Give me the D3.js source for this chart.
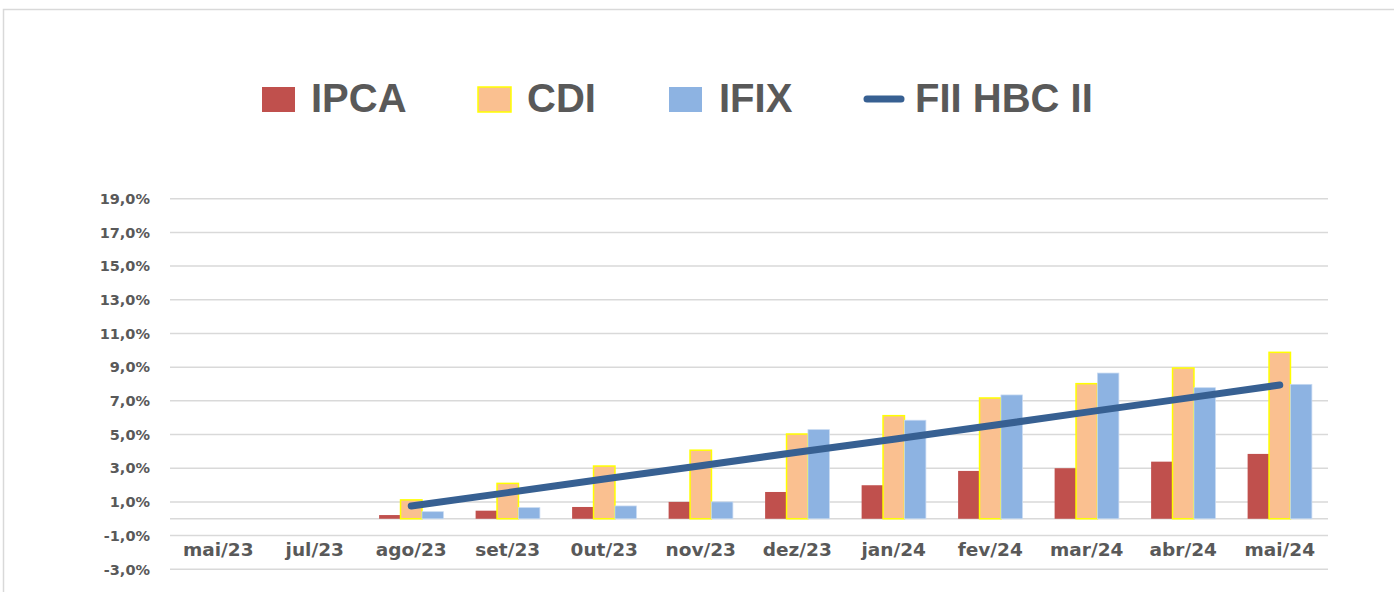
<!DOCTYPE html>
<html>
<head>
<meta charset="utf-8">
<script src="https://cdn.jsdelivr.net/npm/d3@7"></script>
<style>
  body { margin: 0; background: #fff; }
  svg { display: block; }
</style>
</head>
<body>
<div id="vis-container"></div>
<script>
// month labels as in the sheet (yes, "0ut/23" with a zero)
const categories = ["mai/23", "jul/23", "ago/23", "set/23", "0ut/23", "nov/23",
                    "dez/23", "jan/24", "fev/24", "mar/24", "abr/24", "mai/24"];

const ipca = [null, null, 0.22, 0.48, 0.70, 1.00, 1.59, 1.99, 2.84, 3.00, 3.39, 3.85];
const cdi  = [null, null, 1.12, 2.10, 3.13, 4.07, 5.03, 6.12, 7.17, 8.02, 8.95, 9.88];
const ifix = [null, null, 0.42, 0.66, 0.76, 1.00, 5.29, 5.85, 7.35, 8.65, 7.78, 7.98];
const fiiHbc = [null, null, 0.76, 1.55, 2.36, 3.15, 3.95, 4.72, 5.52, 6.33, 7.13, 7.94];

const yTicks = [-3, -1, 1, 3, 5, 7, 9, 11, 13, 15, 17, 19];

const seriesNames = ["IPCA", "CDI", "IFIX"];
const lineName = "FII HBC II";

let width = 1394;
let height = 592;

let svg = d3.select("#vis-container")
  .append("svg")
  .attr("width", width)
  .attr("height", height);

// chart frame
svg.append("rect")
  .attr("x", 3.5)
  .attr("y", 9.5)
  .attr("width", width + 20)
  .attr("height", height + 20)
  .attr("fill", "none")
  .attr("stroke", "#d9d9d9")
  .attr("stroke-width", 1.5);

let x0 = d3.scaleBand()
  .domain(categories)
  .range([170, 1328])
  .paddingInner(0.334)
  .paddingOuter(0.167);

let x1 = d3.scaleBand()
  .domain(seriesNames)
  .range([0, x0.bandwidth()]);

let y = d3.scaleLinear()
  .domain([-3, 19])
  .range([569.3, 198.7]);

// gridlines + zero line
let gridVals = yTicks.concat([0]);
svg.append("g")
  .selectAll("line")
  .data(gridVals)
  .enter()
  .append("line")
  .attr("x1", 170)
  .attr("x2", 1328)
  .attr("y1", d => y(d))
  .attr("y2", d => y(d))
  .attr("stroke", "#d9d9d9")
  .attr("stroke-width", 1.5);

// y labels
let fmt = d => d3.format(".1f")(d).replace(".", ",").replace("−", "-") + "%";
svg.append("g")
  .selectAll("text")
  .data(yTicks)
  .enter()
  .append("text")
  .attr("x", 150)
  .attr("y", d => y(d))
  .attr("dy", "0.36em")
  .attr("text-anchor", "end")
  .style("font-family", "'DejaVu Sans', sans-serif")
  .style("font-weight", "bold")
  .style("font-size", "14.5px")
  .style("fill", "#595959")
  .text(fmt);

// x labels
svg.append("g")
  .selectAll("text")
  .data(categories)
  .enter()
  .append("text")
  .attr("x", d => x0(d) + x0.bandwidth() / 2)
  .attr("y", 556)
  .attr("text-anchor", "middle")
  .style("font-family", "'DejaVu Sans', sans-serif")
  .style("font-weight", "bold")
  .style("font-size", "18.5px")
  .style("fill", "#595959")
  .text(d => d);

// bars
const colors = { IPCA: "#c0504d", CDI: "#fac090", IFIX: "#8db3e2" };
const strokes = { IPCA: "none", CDI: "#ffff00", IFIX: "#c6d9f1" };
const values = { IPCA: ipca, CDI: cdi, IFIX: ifix };

let barData = [];
categories.forEach(function (c, i) {
  seriesNames.forEach(function (s) {
    if (values[s][i] != null) barData.push({ cat: c, series: s, v: values[s][i] });
  });
});

svg.append("g")
  .selectAll("rect")
  .data(barData)
  .enter()
  .append("rect")
  .attr("x", d => x0(d.cat) + x1(d.series))
  .attr("y", d => y(d.v))
  .attr("width", x1.bandwidth())
  .attr("height", d => y(0) - y(d.v))
  .attr("fill", d => colors[d.series])
  .attr("stroke", d => strokes[d.series])
  .attr("stroke-width", d => d.series === "CDI" ? 1.5 : 0.75);

// FII HBC II line
let linePts = categories
  .map((c, i) => [c, fiiHbc[i]])
  .filter(d => d[1] != null);

let line = d3.line()
  .x(d => x0(d[0]) + x0.bandwidth() / 2)
  .y(d => y(d[1]));

svg.append("path")
  .datum(linePts)
  .attr("d", line)
  .attr("fill", "none")
  .attr("stroke", "#376092")
  .attr("stroke-width", 7)
  .attr("stroke-linecap", "round")
  .attr("stroke-linejoin", "round");

// legend
let legend = svg.append("g")
  .style("font-family", "'Liberation Sans', Arial, sans-serif")
  .style("font-weight", "bold")
  .style("font-size", "40px")
  .style("fill", "#595959");

const legendItems = [
  { name: "IPCA", kind: "bar", mx: 262, tx: 311 },
  { name: "CDI", kind: "bar", mx: 478, tx: 527 },
  { name: "IFIX", kind: "bar", mx: 669, tx: 719 },
  { name: lineName, kind: "line", mx: 863, tx: 915 }
];

legendItems.forEach(function (it) {
  if (it.kind === "bar") {
    legend.append("rect")
      .attr("x", it.mx)
      .attr("y", 87)
      .attr("width", 33)
      .attr("height", 25)
      .attr("fill", colors[it.name])
      .attr("stroke", it.name === "CDI" ? "#ffff00" : "none")
      .attr("stroke-width", 1.5);
  } else {
    legend.append("line")
      .attr("x1", it.mx + 4)
      .attr("x2", it.mx + 38)
      .attr("y1", 99)
      .attr("y2", 99)
      .attr("stroke", "#376092")
      .attr("stroke-width", 7)
      .attr("stroke-linecap", "round");
  }
  legend.append("text")
    .attr("x", it.tx)
    .attr("y", 112)
    .text(it.name);
});
</script>
</body>
</html>
